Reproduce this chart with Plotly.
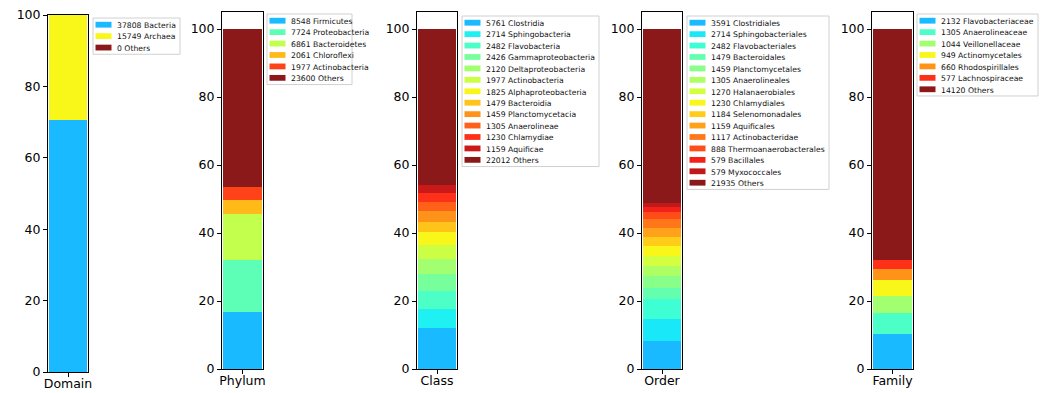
import numpy as np
import plotly.graph_objects as go

# ---- counts per taxonomic level (top taxa + remainder) ----
domain_names = ["Bacteria", "Archaea", "Others"]
domain_counts = [37808, 15749, 0]

phylum_names = ["Firmicutes", "Proteobacteria", "Bacteroidetes", "Chloroflexi",
                "Actinobacteria", "Others"]
phylum_counts = [8548, 7724, 6861, 2061, 1977, 23600]

class_names = ["Clostridia", "Sphingobacteria", "Flavobacteria", "Gammaproteobacteria",
               "Deltaproteobacteria", "Actinobacteria", "Alphaproteobacteria",
               "Bacteroidia", "Planctomycetacia", "Anaerolineae", "Chlamydiae",
               "Aquificae", "Others"]
class_counts = [5761, 2714, 2482, 2426, 2120, 1977, 1825, 1479, 1459, 1305, 1230,
                1159, 22012]

order_names = ["Clostridiales", "Sphingobacteriales", "Flavobacteriales", "Bacteroidales",
               "Planctomycetales", "Anaerolineales", "Halanaerobiales", "Chlamydiales",
               "Selenomonadales", "Aquificales", "Actinobacteridae",
               "Thermoanaerobacterales", "Bacillales", "Myxococcales", "Others"]
order_counts = [3591, 2714, 2482, 1479, 1459, 1305, 1270, 1230, 1184, 1159, 1117, 888,
                579, 579, 21935]

family_names = ["Flavobacteriaceae", "Anaerolineaceae", "Veillonellaceae",
                "Actinomycetales", "Rhodospirillales", "Lachnospiraceae", "Others"]
family_counts = [2132, 1305, 1044, 949, 660, 577, 14120]

levels = ["Domain", "Phylum", "Class", "Order", "Family"]
y_ticks = [0, 20, 40, 60, 80, 100]

W, H = 1044, 393
FONT = "DejaVu Sans"


def jet(v):
    """Matplotlib-style jet colormap, returns rgb in 0..1."""
    r = np.interp(v, [0, 0.35, 0.66, 0.89, 1], [0, 0, 1, 1, 0.5])
    g = np.interp(v, [0, 0.125, 0.375, 0.64, 0.91, 1], [0, 0, 1, 1, 0, 0])
    b = np.interp(v, [0, 0.11, 0.34, 0.65, 1], [0.5, 1, 1, 0, 0])
    return r, g, b


def palette(n, alpha=0.9):
    out = []
    for v in np.linspace(0.3, 1.0, n):
        r, g, b = jet(v)
        out.append(f"rgba({round(r*255)},{round(g*255)},{round(b*255)},{alpha})")
    return out


def px(x):
    return x / W


def py(y):
    return 1 - y / H


# panel geometry in pixels: axis box (left, right, top, bottom), y max, legend (left, top, right)
panels = [
    (domain_names, domain_counts, (48, 88, 15, 372), 100, (93, 18, 180)),
    (phylum_names, phylum_counts, (222, 263, 12, 369), 105, (267, 14, 352)),
    (class_names, class_counts, (417, 457, 12, 369), 105, (462, 16, 599)),
    (order_names, order_counts, (642, 682, 12, 369), 105, (687, 16, 829)),
    (family_names, family_counts, (872, 913, 12, 369), 105, (917, 14, 1038)),
]

fig = go.Figure()
layout = dict(
    width=W, height=H, margin=dict(l=0, r=0, t=0, b=0, pad=0, autoexpand=False),
    paper_bgcolor="white", plot_bgcolor="white",
    barmode="stack", showlegend=False, bargap=0,
    font=dict(family=FONT, size=12.5, color="black"),
)
shapes = []
annotations = []
PITCH = 11.43

for i, (names, counts, box, ymax, leg) in enumerate(panels):
    level = levels[i]
    sfx = "" if i == 0 else str(i + 1)
    total = float(sum(counts))
    colors = palette(len(names))
    for name, cnt, col in zip(names, counts, colors):
        fig.add_trace(go.Bar(
            x=[level], y=[cnt / total * 100], name=f"{cnt} {name}",
            marker=dict(color=col, line=dict(width=0)), width=0.8,
            xaxis="x" + sfx, yaxis="y" + sfx,
        ))
    x0, x1, yt, yb = box
    layout["xaxis" + sfx] = dict(
        domain=[px(x0), px(x1)], anchor="y" + sfx, range=[-0.42, 0.42],
        showline=True, mirror=True, linecolor="black", linewidth=1,
        ticks="outside", ticklen=4, tickcolor="black", showgrid=False,
        zeroline=False, automargin=False, ticklabelstandoff=-4,
        tickfont=dict(family=FONT, size=12.5, color="black"),
    )
    layout["yaxis" + sfx] = dict(
        domain=[py(yb), py(yt)], anchor="x" + sfx, range=[0, ymax],
        tickvals=y_ticks, showline=True, mirror=True, linecolor="black",
        linewidth=1, ticks="outside", ticklen=4, tickcolor="black",
        showgrid=False, zeroline=False, automargin=False,
        tickfont=dict(family=FONT, size=12.5, color="black"),
    )

    # legend box with swatches and labels
    lx, ltop, lr = leg
    n = len(names)
    first = ltop + 6.7
    lbot = first + PITCH * (n - 1) + 6.7
    shapes.append(dict(type="rect", xref="paper", yref="paper",
                       x0=px(lx), x1=px(lr), y0=py(lbot), y1=py(ltop),
                       line=dict(color="#d0d0d0", width=1),
                       fillcolor="rgba(255,255,255,0.8)", layer="above"))
    for k, (name, cnt, col) in enumerate(zip(names, counts, colors)):
        cy = first + PITCH * k
        shapes.append(dict(type="rect", xref="paper", yref="paper",
                           x0=px(lx + 2.5), x1=px(lx + 18.5),
                           y0=py(cy + 2.9), y1=py(cy - 2.9),
                           line=dict(width=0), fillcolor=col, layer="above"))
        annotations.append(dict(
            xref="paper", yref="paper", x=px(lx + 23), y=py(cy + 0.8),
            xanchor="left", yanchor="middle", showarrow=False,
            text=f"{cnt} {name}", borderpad=0,
            font=dict(family=FONT, size=7.7, color="#111111"),
        ))

layout["shapes"] = shapes
layout["annotations"] = annotations
fig.update_layout(**layout)
fig.write_html("out.html")
